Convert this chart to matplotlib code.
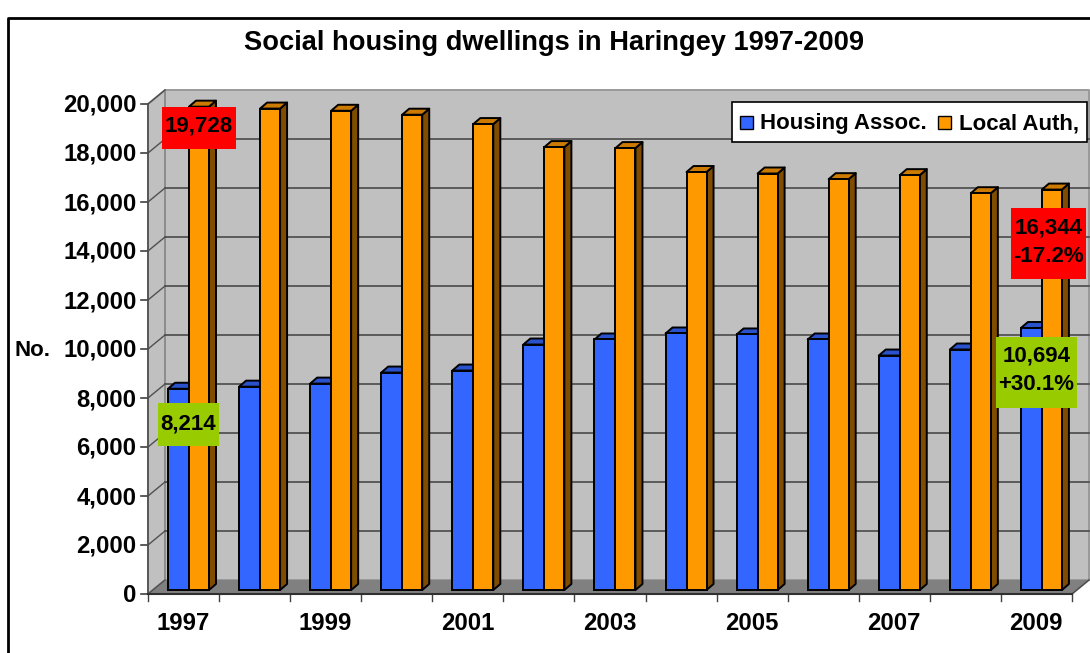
import matplotlib
matplotlib.use("Agg")
import matplotlib.pyplot as plt
from matplotlib.patches import Polygon, Rectangle

plt.rcParams['font.family'] = ['Liberation Sans', 'DejaVu Sans']

years = [1997, 1998, 1999, 2000, 2001, 2002, 2003, 2004, 2005, 2006, 2007, 2008, 2009]
housing_assoc = [8214, 8300, 8425, 8875, 8957, 10020, 10225, 10470, 10430, 10225, 9570, 9816, 10694]
local_auth = [19728, 19650, 19560, 19400, 19018, 18078, 18037, 17060, 17000, 16769, 16933, 16196, 16344]
y_ticks = list(range(0, 20001, 2000))
x_tick_years = [1997, 1999, 2001, 2003, 2005, 2007, 2009]

W, H = 1090, 653
fig = plt.figure(figsize=(W / 100, H / 100), dpi=100)
fig.patch.set_facecolor('white')

# front plane of the fake 3D box, in pixels
ax = fig.add_axes([148 / W, 1 - 594 / H, 924 / W, 490 / H])
ax.set_xlim(0, len(years))
ax.set_ylim(0, 20000)
ax.axis('off')

px_x = len(years) / 924
px_y = 20000 / 490
dx = 17 * px_x   # wall depth
dy = 14 * px_y


def poly(pts, fc, ec='none', lw=0, z=1):
    ax.add_patch(Polygon(pts, closed=True, fc=fc, ec=ec, lw=lw, zorder=z, clip_on=False,
                         joinstyle='round'))


n = len(years)
# walls and floor
poly([(dx, dy), (n + dx, dy), (n + dx, 20000 + dy), (dx, 20000 + dy)], '#C0C0C0', '#999999', 1.4)
poly([(0, 0), (dx, dy), (dx, 20000 + dy), (0, 20000)], '#C0C0C0', '#8C8C8C', 1.4)
poly([(0, 0), (n, 0), (n + dx, dy), (dx, dy)], '#808080')

for t in y_ticks:
    if 0 < t < 20000:
        ax.plot([dx, n + dx], [t + dy, t + dy], color='#404040', lw=1.1, zorder=2, clip_on=False)
    ax.plot([0, dx], [t, t + dy], color='#505050', lw=1.0, zorder=2, clip_on=False)
    ax.plot([-7 * px_x, 0], [t, t], color='#404040', lw=1.2, zorder=2, clip_on=False)
    ax.text(-11.5 * px_x, t - 1.5 * px_y, f"{t:,}", ha='right', va='center', fontsize=17.2, fontweight='bold')

# axis lines + category ticks
ax.plot([0, n], [0, 0], color='#303030', lw=1.5, zorder=6, clip_on=False)
ax.plot([0, 0], [0, 20000], color='#505050', lw=1.2, zorder=2, clip_on=False)
ax.plot([n, n + dx], [0, dy], color='#505050', lw=1.2, zorder=2, clip_on=False)
for i in range(n + 1):
    ax.plot([i, i], [0, -7 * px_y], color='#404040', lw=1.0, clip_on=False)
for y in x_tick_years:
    ax.text(years.index(y) + 0.5 - 0.5 * px_x, -30 * px_y, str(y), ha='center', va='center',
            fontsize=17.2, fontweight='bold')

# bars
base = 4 * px_y
bx = 7 * px_x
by = 6 * px_y
w1 = 21 * px_x
w2 = 20 * px_x
off = 20 * px_x


def bar3d(x0, w, val, front, top, side, z):
    yb = base
    yt = val + base
    poly([(x0 + w, yb), (x0 + w + bx, yb + by), (x0 + w + bx, yt + by), (x0 + w, yt)], side, 'black', 1.4, z)
    poly([(x0, yt), (x0 + bx, yt + by), (x0 + w + bx, yt + by), (x0 + w, yt)], top, 'black', 1.4, z)
    ax.add_patch(Rectangle((x0, yb), w, yt - yb, fc=front, ec='black', lw=1.4, zorder=z, clip_on=False))


for i in range(n):
    bar3d(i + off, w1, housing_assoc[i], '#3366FF', '#2952CC', '#1F3D99', 3 + i * 0.01)
    bar3d(i + off + w1, w2, local_auth[i], '#FF9900', '#CC7A00', '#7F4C00', 4 + i * 0.01)

# callouts
boxes = [
    (162, 107, 74, 42, '#FF0000', "19,728", 126),
    (1011, 208, 75, 71, '#FF0000', "16,344\n-17.2%", 242),
    (158, 403, 61, 43, '#99CC00', "8,214", 424),
    (996, 337, 81, 71, '#99CC00', "10,694\n+30.1%", 370),
]
for bx0, by0, bw, bh, col, txt, ty in boxes:
    fig.patches.append(Rectangle((bx0 / W, 1 - (by0 + bh) / H), bw / W, bh / H, fc=col, ec='none',
                                 transform=fig.transFigure, zorder=8))
    fig.text((bx0 + bw / 2) / W, 1 - ty / H, txt, ha='center', va='center',
             fontsize=16, fontweight='bold', linespacing=1.5, zorder=9)

# legend box
fig.patches.append(Rectangle((732 / W, 1 - 142 / H), 355 / W, 40 / H, fc='white', ec='black', lw=1.2,
                             transform=fig.transFigure, zorder=8))
for sx, col, lab, tx in [(740, '#3366FF', 'Housing Assoc.', 760), (938, '#FF9900', 'Local Auth,', 959)]:
    fig.patches.append(Rectangle((sx / W, 1 - 129 / H), 13 / W, 13 / H, fc=col, ec='black', lw=1,
                                 transform=fig.transFigure, zorder=9))
    fig.text(tx / W, 1 - 124 / H, lab, ha='left', va='center', fontsize=16, fontweight='bold', zorder=9)

# title, axis label, frame
fig.text(553.5 / W, 1 - 43 / H, "Social housing dwellings in Haringey 1997-2009", ha='center', va='center',
         fontsize=19.6, fontweight='bold')
fig.text(33 / W, 1 - 351 / H, "No.", ha='center', va='center', fontsize=16, fontweight='bold')
fig.add_artist(plt.Line2D([8 / W, 8 / W, 1], [0, 1 - 18 / H, 1 - 18 / H], color='black', lw=2,
                          transform=fig.transFigure))

fig.savefig("out.png", dpi=100)
